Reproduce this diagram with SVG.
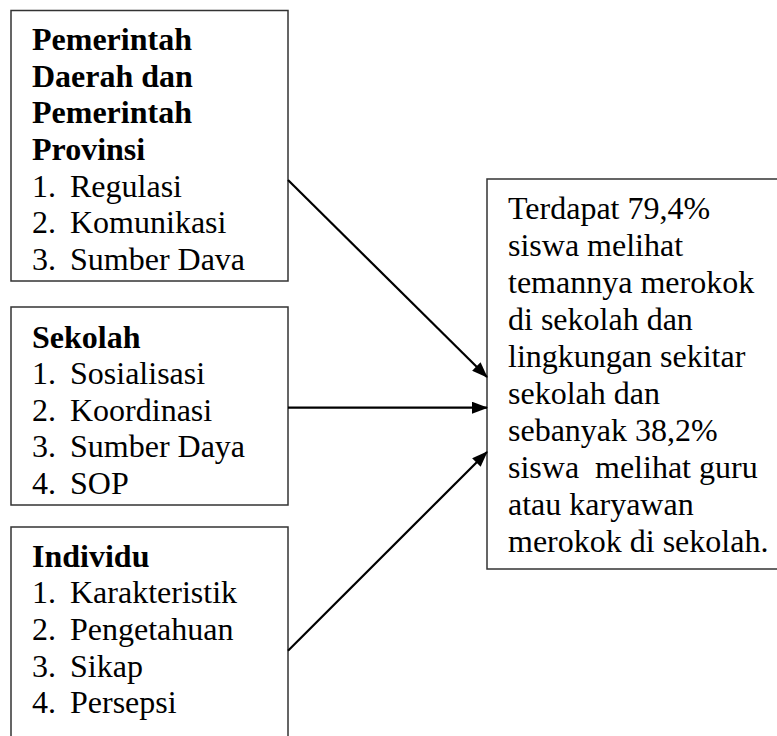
<svg xmlns="http://www.w3.org/2000/svg" width="777" height="736" viewBox="0 0 777 736">
  <defs>
    <marker id="arrow" markerWidth="16" markerHeight="12" refX="15" refY="6" orient="auto" markerUnits="userSpaceOnUse">
      <path d="M0,0 L16,6 L0,12 Z" fill="#000000"/>
    </marker>
  </defs>
  <rect width="777" height="736" fill="#ffffff"/>

  <g id="pemerintah" font-family="Liberation Serif, Times New Roman, serif" font-size="32" fill="#000000">
    <rect x="11" y="10.5" width="277" height="270.5" fill="#ffffff" stroke="#333333" stroke-width="1.5"/>
    <text x="32" y="50" font-weight="bold">Pemerintah</text>
    <text x="32" y="86.7" font-weight="bold">Daerah dan</text>
    <text x="32" y="123.3" font-weight="bold">Pemerintah</text>
    <text x="32" y="160" font-weight="bold">Provinsi</text>
    <text x="32" y="196.7">1.</text><text x="70" y="196.7">Regulasi</text>
    <text x="32" y="233.3">2.</text><text x="70" y="233.3">Komunikasi</text>
    <text x="32" y="270">3.</text><text x="70" y="270">Sumber Dava</text>
  </g>

  <g id="sekolah" font-family="Liberation Serif, Times New Roman, serif" font-size="32" fill="#000000">
    <rect x="11" y="307" width="277" height="198" fill="#ffffff" stroke="#333333" stroke-width="1.5"/>
    <text x="32" y="347.5" font-weight="bold">Sekolah</text>
    <text x="32" y="384">1.</text><text x="70" y="384">Sosialisasi</text>
    <text x="32" y="420.7">2.</text><text x="70" y="420.7">Koordinasi</text>
    <text x="32" y="457.3">3.</text><text x="70" y="457.3">Sumber Daya</text>
    <text x="32" y="494">4.</text><text x="70" y="494">SOP</text>
  </g>

  <g id="individu" font-family="Liberation Serif, Times New Roman, serif" font-size="32" fill="#000000">
    <rect x="11" y="527" width="277" height="220" fill="#ffffff" stroke="#333333" stroke-width="1.5"/>
    <text x="32" y="566.7" font-weight="bold">Individu</text>
    <text x="32" y="603.3">1.</text><text x="70" y="603.3">Karakteristik</text>
    <text x="32" y="640">2.</text><text x="70" y="640">Pengetahuan</text>
    <text x="32" y="676.7">3.</text><text x="70" y="676.7">Sikap</text>
    <text x="32" y="713.3">4.</text><text x="70" y="713.3">Persepsi</text>
  </g>

  <g id="hasil" font-family="Liberation Serif, Times New Roman, serif" font-size="32" fill="#000000">
    <rect x="487" y="179" width="300" height="390" fill="#ffffff" stroke="#333333" stroke-width="1.5"/>
    <text x="508" y="219.3">Terdapat 79,4%</text>
    <text x="508" y="256.2">siswa melihat</text>
    <text x="508" y="293.2">temannya merokok</text>
    <text x="508" y="330.1">di sekolah dan</text>
    <text x="508" y="367.1">lingkungan sekitar</text>
    <text x="508" y="404">sekolah dan</text>
    <text x="508" y="440.9">sebanyak 38,2%</text>
    <text x="508" y="477.9">siswa<tspan x="595">melihat guru</tspan></text>
    <text x="508" y="514.8">atau karyawan</text>
    <text x="508" y="551.7">merokok di sekolah.</text>
  </g>

  <g id="connectors" stroke="#000000" stroke-width="2.2" fill="none">
    <line x1="288" y1="180" x2="487" y2="377" marker-end="url(#arrow)"/>
    <line x1="288" y1="407.7" x2="487" y2="407.7" marker-end="url(#arrow)"/>
    <line x1="288" y1="650.7" x2="487" y2="452" marker-end="url(#arrow)"/>
  </g>
</svg>
